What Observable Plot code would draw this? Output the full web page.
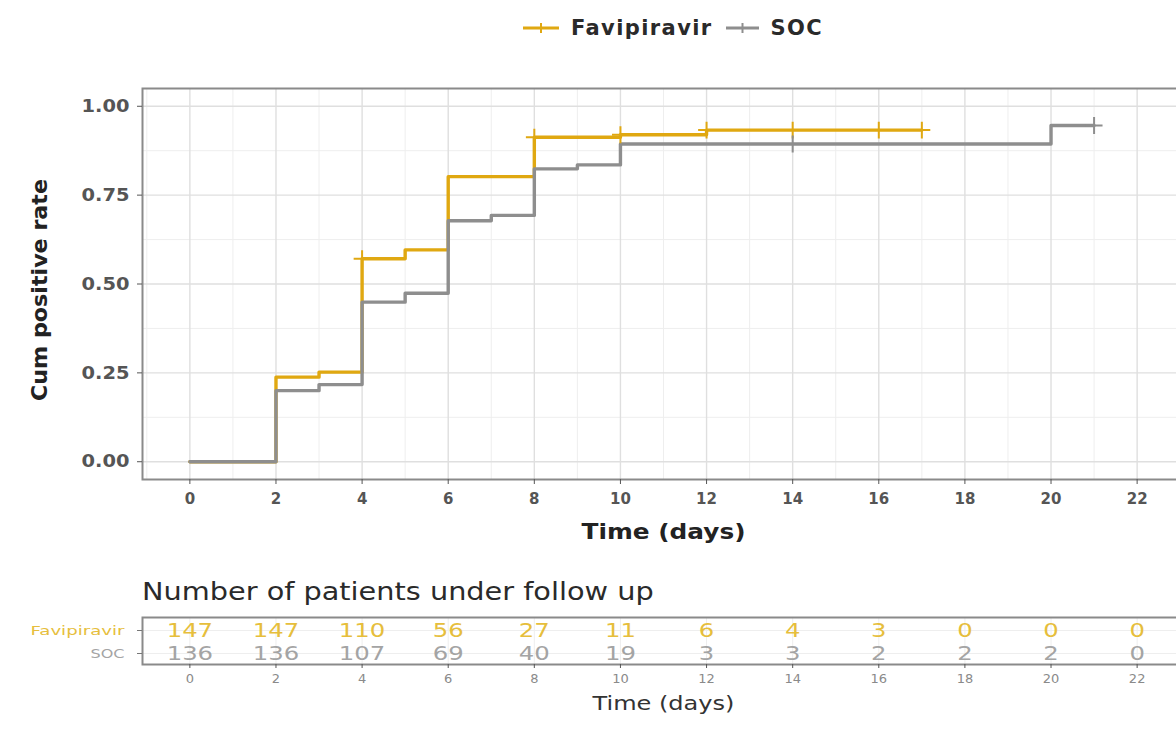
<!DOCTYPE html>
<html>
<head>
<meta charset="utf-8">
<script src="https://cdn.jsdelivr.net/npm/d3@7"></script>
<script src="https://cdn.jsdelivr.net/npm/@observablehq/plot@0.6"></script>
<style>
  html, body { margin: 0; padding: 0; background: #fff; }
  #root { position: relative; width: 1176px; height: 742px; overflow: hidden; font-family: "DejaVu Sans", sans-serif; }
  #root svg { max-width: none !important; }
  #legend { position: absolute; top: 16px; left: 522px; display: flex; align-items: center; font-weight: bold; font-size: 21px; letter-spacing: 1.4px; color: #2a2a2a; white-space: nowrap; }
  #legend .item { display: flex; align-items: center; }
  #legend .item + .item { margin-left: 12px; }
  #legend svg { margin-right: 11px; }
  #main { position: absolute; top: 60px; left: 0; }
  #riskTitle { position: absolute; top: 577px; left: 142px; font-size: 25px; color: #2a2a2a; white-space: nowrap; transform: scaleX(1.15); transform-origin: left center; }
  #risk { position: absolute; top: 600px; left: 0; }
  #main g[aria-label="x-axis tick label"], #main g[aria-label="y-axis tick label"] { fill: #555; }
  #risk g[aria-label="x-axis tick label"] { fill: #8a8a8a; }
</style>
</head>
<body>
<div id="root">
  <div id="legend"></div>
  <div id="main"></div>
  <div id="riskTitle">Number of patients under follow up</div>
  <div id="risk"></div>
</div>
<script>
// ---- data ----
const groups = ["Favipiravir", "SOC"];
const groupColors = ["#E0A811", "#8E8E8E"];
const tableColors = ["#E6BE3C", "#A4A4A4"];

const favTime = [0, 2, 3, 4, 5, 6, 8, 10, 12, 17];
const favRate = [0, 0.238, 0.252, 0.571, 0.596, 0.802, 0.913, 0.920, 0.933, 0.933];
const socTime = [0, 2, 3, 4, 5, 6, 7, 8, 9, 10, 20, 21];
const socRate = [0, 0.200, 0.217, 0.449, 0.474, 0.678, 0.693, 0.824, 0.835, 0.894, 0.946, 0.946];
const favCensor = [4, 8, 10, 12, 14, 16, 17];
const socCensor = [14, 21];

const xTicks = [0, 2, 4, 6, 8, 10, 12, 14, 16, 18, 20, 22];
const xMinor = [-1, 1, 3, 5, 7, 9, 11, 13, 15, 17, 19, 21, 23];
const yTicks = [0, 0.25, 0.5, 0.75, 1.0];
const yMinor = [0.125, 0.375, 0.625, 0.875];

const riskTimes = [0, 2, 4, 6, 8, 10, 12, 14, 16, 18, 20, 22];
const favAtRisk = [147, 147, 110, 56, 27, 11, 6, 4, 3, 0, 0, 0];
const socAtRisk = [136, 136, 107, 69, 40, 19, 3, 3, 2, 2, 2, 0];

// ---- build tables ----
const curves = [
  ...favTime.map((t, i) => ({group: groups[0], t, v: favRate[i]})),
  ...socTime.map((t, i) => ({group: groups[1], t, v: socRate[i]}))
];
function stepAt(times, rates, t) {
  const i = d3.bisectRight(times, t) - 1;
  return rates[Math.max(0, i)];
}
const censors = [
  ...favCensor.map(t => ({group: groups[0], t, v: stepAt(favTime, favRate, t)})),
  ...socCensor.map(t => ({group: groups[1], t, v: stepAt(socTime, socRate, t)}))
];
const risk = [
  ...riskTimes.map((t, i) => ({group: groups[0], t, n: favAtRisk[i]})),
  ...riskTimes.map((t, i) => ({group: groups[1], t, n: socAtRisk[i]}))
];
const colorOf = g => groupColors[groups.indexOf(g)];
const tableColorOf = g => tableColors[groups.indexOf(g)];

const xDomain = [-1.1, 23.1];

function stretch(svg, test, len) {
  d3.select(svg).selectAll("text")
    .filter(function() { return test(this.textContent.trim()); })
    .attr("textLength", typeof len === "function" ? function() { return len(this.textContent.trim()); } : len)
    .attr("lengthAdjust", "spacingAndGlyphs");
}

// ---- legend ----
const legend = document.getElementById("legend");
groups.forEach((g, i) => {
  const item = document.createElement("div");
  item.className = "item";
  const c = groupColors[i];
  const w = i === 0 ? 38 : 35;
  item.innerHTML = `<svg width="${w}" height="14"><line x1="1" y1="7" x2="${w - 1}" y2="7" stroke="${c}" stroke-width="3"/><line x1="${w / 2}" y1="2" x2="${w / 2}" y2="12" stroke="${c}" stroke-width="2"/></svg><span>${g}</span>`;
  legend.appendChild(item);
});

// ---- main plot ----
const main = Plot.plot({
  width: 1200,
  height: 500,
  marginLeft: 142,
  marginRight: 16,
  marginTop: 28,
  marginBottom: 81,
  style: {fontFamily: "DejaVu Sans", background: "transparent", overflow: "visible"},
  x: {domain: xDomain},
  y: {domain: [-0.05, 1.05]},
  color: {type: "identity"},
  marks: [
    Plot.gridX(xMinor, {stroke: "#eeeeee", strokeOpacity: 1, strokeWidth: 1}),
    Plot.gridY(yMinor, {stroke: "#eeeeee", strokeOpacity: 1, strokeWidth: 1}),
    Plot.gridX(xTicks, {stroke: "#dfdfdf", strokeOpacity: 1, strokeWidth: 1.4}),
    Plot.gridY(yTicks, {stroke: "#dfdfdf", strokeOpacity: 1, strokeWidth: 1.4}),
    Plot.line(curves, {x: "t", y: "v", z: "group", stroke: d => colorOf(d.group), curve: "step-after", strokeWidth: 3.4}),
    Plot.dot(censors, {x: "t", y: "v", symbol: "plus", r: 5.5, stroke: d => colorOf(d.group), strokeWidth: 2}),
    Plot.frame({stroke: "#8a8a8a", strokeWidth: 2}),
    Plot.axisX(xTicks, {tickSize: 5, tickPadding: 9, fontSize: 15, fontWeight: "bold", label: null, tickFormat: d => String(d), stroke: "#555"}),
    Plot.axisY(yTicks, {tickSize: 5, tickPadding: 8, fontSize: 18, fontWeight: "bold", label: null, tickFormat: d3.format(".2f"), stroke: "#555"}),
    Plot.text(["Time (days)"], {frameAnchor: "bottom", dy: 59, fontSize: 21, fontWeight: "bold", fill: "#222"}),
    Plot.text(["Cum positive rate"], {frameAnchor: "left", textAnchor: "middle", dx: -102, dy: 6, rotate: -90, fontSize: 21, fontWeight: "bold", fill: "#222"})
  ]
});
stretch(main, s => s === "Time (days)", 164);
stretch(main, s => s === "Cum positive rate", 222);
stretch(main, s => /^\d\.\d\d$/.test(s), 48);
document.getElementById("main").appendChild(main);

// ---- risk table ----
const riskPlot = Plot.plot({
  width: 1200,
  height: 125,
  marginLeft: 142,
  marginRight: 16,
  marginTop: 17,
  marginBottom: 61,
  style: {fontFamily: "DejaVu Sans", background: "transparent", overflow: "visible"},
  x: {domain: xDomain},
  y: {type: "point", domain: groups, range: [29.5, 53], padding: 0},
  color: {type: "identity"},
  marks: [
    Plot.gridX(xTicks, {stroke: "#eeeeee", strokeOpacity: 1}),
    Plot.gridY(groups, {stroke: "#eeeeee", strokeOpacity: 1}),
    Plot.text(risk, {x: "t", y: "group", text: d => String(d.n), fill: d => tableColorOf(d.group), fontSize: 19.5}),
    Plot.frame({stroke: "#8a8a8a", strokeWidth: 2}),
    Plot.axisX(xTicks, {tickSize: 4, tickPadding: 5, fontSize: 13, label: null, tickFormat: d => String(d), stroke: "#555"}),
    Plot.axisY(groups, {tickSize: 5, tickFormat: () => "", label: null, stroke: "#777"}),
    Plot.text(groups, {y: d => d, frameAnchor: "left", dx: -18, textAnchor: "end", fontSize: 13, fill: d => tableColorOf(d)}),
    Plot.text(["Time (days)"], {frameAnchor: "bottom", dy: 45, fontSize: 19, fill: "#333"})
  ]
});
stretch(riskPlot, s => /^\d+$/.test(s) && s.length <= 3, s => s.length * 15.5);
stretch(riskPlot, s => s === "Favipiravir", 94);
stretch(riskPlot, s => s === "SOC", 34);
stretch(riskPlot, s => s === "Time (days)", 142);
// keep the x-axis tick labels natural width
d3.select(riskPlot).selectAll('g[aria-label="x-axis tick label"] text').attr("textLength", null).attr("lengthAdjust", null);
document.getElementById("risk").appendChild(riskPlot);
</script>
</body>
</html>
